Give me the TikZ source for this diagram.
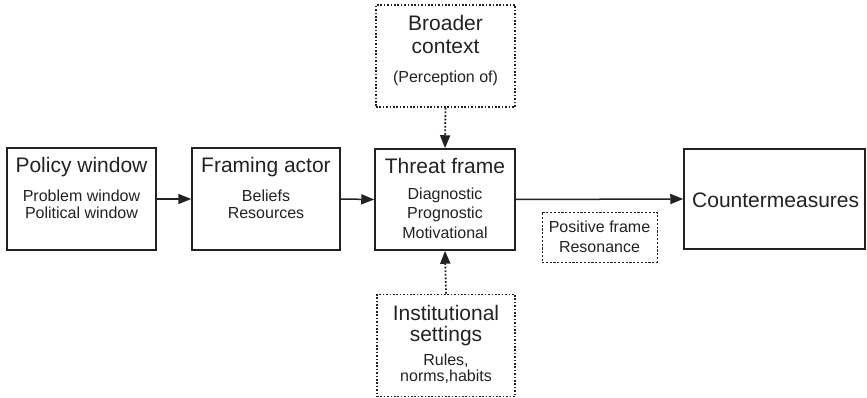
\documentclass[tikz,border=0pt]{standalone}
\usepackage{fontspec}
\setmainfont{Liberation Sans}
\usetikzlibrary{arrows.meta}
\definecolor{ink}{HTML}{222222}
\tikzset{
  box/.style={draw=ink, line width=1.5pt, inner sep=0pt},
  dotbox/.style={draw=ink, line width=1.6pt, inner sep=0pt, dash pattern=on 1.6pt off 1.8pt},
  finebox/.style={draw=ink, line width=0.9pt, inner sep=0pt, dash pattern=on 2.2pt off 1.6pt},
  title/.style={inner sep=0pt, text=ink, font=\fontsize{21}{25}\selectfont},
  sub/.style={inner sep=0pt, text=ink, font=\fontsize{16}{19}\selectfont},
  flow/.style={draw=ink, line width=1.5pt, -{Triangle[length=13pt,width=10pt]}},
  dotflow/.style={flow, line width=1.8pt, dash pattern=on 1.8pt off 1.8pt}
}
\begin{document}
\begin{tikzpicture}[x=1pt,y=-1pt]
\useasboundingbox (0,0) rectangle (867,398);
% boxes
\node[box, minimum width=149pt, minimum height=102pt] (policy) at (81.5,199) {};
\node[box, minimum width=148pt, minimum height=102pt] (actor) at (266,199) {};
\node[box, minimum width=140pt, minimum height=101pt] (threat) at (445,199.5) {};
\node[box, minimum width=181pt, minimum height=100pt] (counter) at (774.5,199) {};
\node[dotbox, minimum width=139pt, minimum height=102pt] (context) at (445.5,56) {};
\node[dotbox, minimum width=138pt, minimum height=102pt] (inst) at (446,345.5) {};
\node[finebox, minimum width=115pt, minimum height=50pt] (positive) at (599.5,237) {};
% texts
\node[title] (policyT) at (81.5,167) {Policy window};
\node[sub] (policyA) at (81.5,196) {Problem window};
\node[sub] (policyB) at (81.5,213) {Political window};
\node[title] (actorT) at (266,167) {Framing actor};
\node[sub] (actorA) at (266,196) {Beliefs};
\node[sub] (actorB) at (266,213) {Resources};
\node[title] (threatT) at (445,166) {Threat frame};
\node[sub] (threatA) at (445,195) {Diagnostic};
\node[sub] (threatB) at (445,214) {Prognostic};
\node[sub] (threatC) at (445,233) {Motivational};
\node[title, anchor=west] (counterT) at (692,200) {Countermeasures};
\node[title] (contextA) at (445.5,23) {Broader};
\node[title] (contextB) at (445.5,47) {context};
\node[sub] (contextC) at (445.5,78) {(Perception of)};
\node[title] (instA) at (446,313) {Institutional};
\node[title] (instB) at (446,336) {settings};
\node[sub] (instC) at (446,361) {Rules,};
\node[sub] (instD) at (446,377) {norms,habits};
\node[sub] (posA) at (599.5,227) {Positive frame};
\node[sub] (posB) at (599.5,247) {Resonance};
% connectors
\draw[flow] (policy.east) -- (actor.west);
\draw[flow] (actor.east) -- (threat.west);
\draw[flow] (threat.east) -- (counter.west);
\draw[dotflow] (context.south) -- (threat.north);
\draw[dotflow] (inst.north) -- (threat.south);
\end{tikzpicture}
\end{document}
